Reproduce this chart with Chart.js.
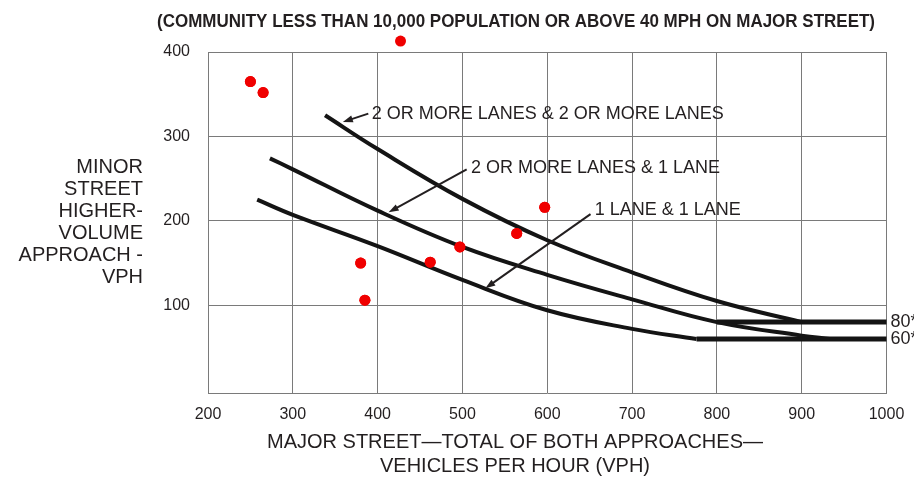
<!DOCTYPE html>
<html>
<head>
<meta charset="utf-8">
<script src="https://cdn.jsdelivr.net/npm/chart.js@4.4.0/dist/chart.umd.min.js"></script>
<style>
  html, body { margin: 0; padding: 0; background: #fff; }
  #wrap { width: 914px; height: 487px; }
</style>
</head>
<body>
<div id="wrap"><canvas id="warrantChart"></canvas></div>
<script>
// --- Dados ---
const xTicks = [200, 300, 400, 500, 600, 700, 800, 900, 1000];
const yTicks = [100, 200, 300, 400];

// 2 OR MORE LANES & 2 OR MORE LANES
const curve22X = [338, 400, 500, 600, 700, 800, 900];
const curve22Y = [325, 285, 226, 177, 139, 105, 80];
// 2 OR MORE LANES & 1 LANE
const curve21X = [273, 300, 400, 500, 600, 700, 800, 900, 933];
const curve21Y = [274, 261, 212, 169, 136, 107, 80, 64, 60];
// 1 LANE & 1 LANE
const curve11X = [258, 300, 400, 500, 600, 700, 776];
const curve11Y = [225, 207, 170, 130, 94, 72, 60];
// patamares 80* e 60*
const floor80X = [800, 1000];
const floor80Y = [80, 80];
const floor60X = [776, 1000];
const floor60Y = [60, 60];

// pontos observados (vermelho)
const obsX = [250, 265, 427, 380, 385, 462, 497, 564, 597];
const obsY = [365, 352, 413, 150, 106, 151, 169, 185, 216];

// etiquetas das curvas (texto, posição do texto, seta de -> para), em unidades do gráfico
const curveLabels = ['2 OR MORE LANES & 2 OR MORE LANES', '2 OR MORE LANES & 1 LANE', '1 LANE & 1 LANE'];
const labelAt = [[393, 327], [510, 263], [656, 213]];
const arrowFrom = [[389, 327], [505, 261], [651, 208]];
const arrowTo = [[359, 317], [413, 210], [527, 120]];

const floorLabels = ['80*', '60*'];
const floorValues = [80, 60];

const title = '(COMMUNITY LESS THAN 10,000 POPULATION OR ABOVE 40 MPH ON MAJOR STREET)';
const xTitle = ['MAJOR STREET\u2014TOTAL OF BOTH APPROACHES\u2014', 'VEHICLES PER HOUR (VPH)'];
const yTitle = ['MINOR', 'STREET', 'HIGHER-', 'VOLUME', 'APPROACH -', 'VPH'];

// --- Estilo ---
const FONT = '"Liberation Sans", Arial, Helvetica, sans-serif';
const colors = {
    text: '#231f20',
    grid: '#7a7a7a',
    curve: '#141414',
    dot: '#f00000'
};

function pts(xs, ys) {
    return xs.map((x, i) => ({ x: x, y: ys[i] }));
}

function lineSet(xs, ys, width) {
    return {
        type: 'line',
        data: pts(xs, ys),
        borderColor: colors.curve,
        borderWidth: width,
        pointRadius: 0,
        fill: false,
        tension: 0.4,
        clip: false
    };
}

// Plugin: títulos, rótulos e setas
const textPlugin = {
    id: 'textPlugin',
    afterDatasetsDraw(chart) {
        // o ponto acima de 400 fica fora da área: desenhá-lo sem recorte
        const full = { left: 0, top: 0, right: chart.width, bottom: chart.height };
        chart.getDatasetMeta(0).data.forEach(el => el.draw(chart.ctx, full));
    },
    afterDraw(chart) {
        const ctx = chart.ctx;
        const xs = chart.scales.x, ys = chart.scales.y;
        ctx.save();
        ctx.fillStyle = colors.text;
        ctx.strokeStyle = colors.text;

        // título (condensado)
        ctx.font = 'bold 18.5px ' + FONT;
        ctx.textBaseline = 'middle';
        ctx.textAlign = 'left';
        const w = ctx.measureText(title).width;
        ctx.save();
        ctx.translate(157, 22);
        ctx.scale(718 / w, 1);
        ctx.fillText(title, 0, 0);
        ctx.restore();

        // título do eixo X
        ctx.font = '20px ' + FONT;
        ctx.textAlign = 'center';
        xTitle.forEach((t, i) => ctx.fillText(t, 515, 442 + i * 24));

        // título do eixo Y
        ctx.textAlign = 'right';
        yTitle.forEach((t, i) => ctx.fillText(t, 143, 167 + i * 22));

        // rótulos 80* / 60*
        ctx.font = '18px ' + FONT;
        ctx.textAlign = 'left';
        floorLabels.forEach((t, i) => ctx.fillText(t, xs.right + 4, ys.getPixelForValue(floorValues[i])));

        // rótulos das curvas + setas
        curveLabels.forEach((t, i) => {
            ctx.fillText(t, xs.getPixelForValue(labelAt[i][0]), ys.getPixelForValue(labelAt[i][1]));
            const x0 = xs.getPixelForValue(arrowFrom[i][0]), y0 = ys.getPixelForValue(arrowFrom[i][1]);
            const x1 = xs.getPixelForValue(arrowTo[i][0]), y1 = ys.getPixelForValue(arrowTo[i][1]);
            const a = Math.atan2(y1 - y0, x1 - x0);
            ctx.lineWidth = 2;
            ctx.beginPath();
            ctx.moveTo(x0, y0);
            ctx.lineTo(x1 - Math.cos(a) * 6, y1 - Math.sin(a) * 6);
            ctx.stroke();
            ctx.beginPath();
            ctx.moveTo(x1, y1);
            ctx.lineTo(x1 - Math.cos(a) * 10 + Math.sin(a) * 3.5, y1 - Math.sin(a) * 10 - Math.cos(a) * 3.5);
            ctx.lineTo(x1 - Math.cos(a) * 10 - Math.sin(a) * 3.5, y1 - Math.sin(a) * 10 + Math.cos(a) * 3.5);
            ctx.closePath();
            ctx.fill();
        });
        ctx.restore();
    }
};

const ctx = document.getElementById('warrantChart');

new Chart(ctx, {
    type: 'scatter',
    data: {
        datasets: [
            {
                type: 'scatter',
                data: pts(obsX, obsY),
                backgroundColor: colors.dot,
                borderColor: colors.dot,
                pointRadius: 5.5,
                pointBorderWidth: 0,
                clip: false
            },
            lineSet(curve22X, curve22Y, 4),
            lineSet(curve21X, curve21Y, 4),
            lineSet(curve11X, curve11Y, 4),
            lineSet(floor80X, floor80Y, 5),
            lineSet(floor60X, floor60Y, 5)
        ]
    },
    options: {
        responsive: true,
        maintainAspectRatio: false,
        animation: false,
        events: [],
        layout: { padding: { top: 52, right: 27.5, bottom: 0, left: 0 } },
        plugins: {
            legend: { display: false },
            tooltip: { enabled: false }
        },
        scales: {
            x: {
                type: 'linear',
                min: 200,
                max: 1000,
                afterBuildTicks: s => { s.ticks = xTicks.map(v => ({ value: v })); },
                afterFit: s => { s.height = 94; s.paddingLeft = 0; s.paddingRight = 0; },
                grid: { color: colors.grid, lineWidth: 1, drawTicks: false },
                border: { color: colors.grid, width: 1 },
                ticks: {
                    padding: 12,
                    color: colors.text,
                    font: { family: FONT, size: 16 },
                    callback: v => String(v)
                }
            },
            y: {
                type: 'linear',
                min: -4,
                max: 400,
                afterBuildTicks: s => { s.ticks = yTicks.map(v => ({ value: v })); },
                afterFit: s => { s.width = 208; },
                grid: { color: colors.grid, lineWidth: 1, drawTicks: false },
                border: { color: colors.grid, width: 1 },
                ticks: {
                    padding: 18,
                    color: colors.text,
                    font: { family: FONT, size: 16 },
                    callback: v => String(v)
                }
            }
        }
    },
    plugins: [textPlugin]
});
</script>
</body>
</html>
